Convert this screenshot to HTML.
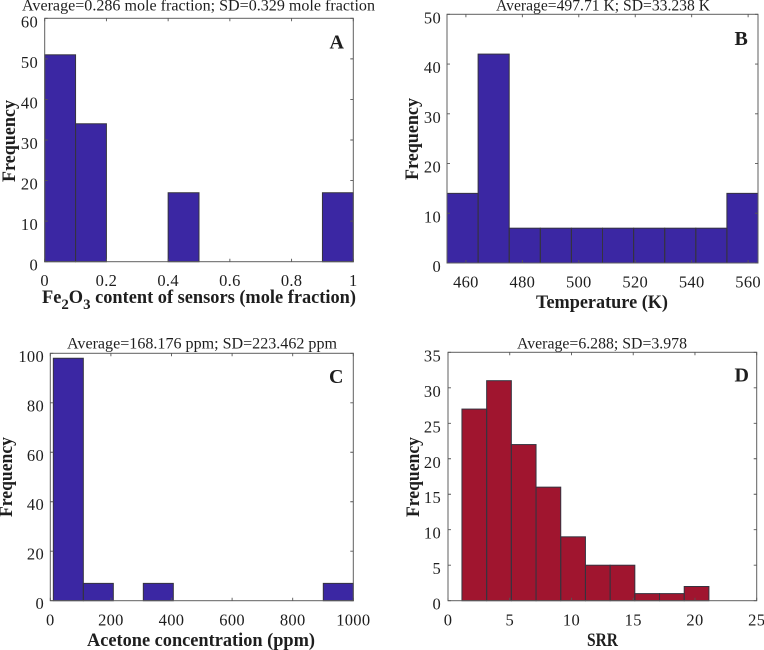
<!DOCTYPE html>
<html lang="en">
<head>
<meta charset="utf-8">
<title>Histograms of sensor data</title>
<style>
html,body{margin:0;padding:0;background:#fff;width:764px;height:650px;overflow:hidden}
svg{display:block;filter:blur(0.35px)}
text{font-family:"Liberation Serif",serif;fill:#1e1e1e}
</style>
</head>
<body>
<svg id="chart" width="764" height="650" viewBox="0 0 764 650" xmlns="http://www.w3.org/2000/svg"></svg>
<script>
const aValues = [51, 34, 0, 0, 17, 0, 0, 0, 0, 17];
const aXTicks = [0, 0.2, 0.4, 0.6, 0.8, 1];
const aYTicks = [0, 10, 20, 30, 40, 50, 60];
const bValues = [14, 42, 7, 7, 7, 7, 7, 7, 7, 14];
const bXTicks = [460, 480, 500, 520, 540, 560];
const bYTicks = [0, 10, 20, 30, 40, 50];
const cValues = [98, 7, 0, 7, 0, 0, 0, 0, 0, 7];
const cXTicks = [0, 200, 400, 600, 800, 1000];
const cYTicks = [0, 20, 40, 60, 80, 100];
const dValues = [27, 31, 22, 16, 9, 5, 5, 1, 1, 2];
const dXTicks = [0, 5, 10, 15, 20, 25];
const dYTicks = [0, 5, 10, 15, 20, 25, 30, 35];

const NS = 'http://www.w3.org/2000/svg';
const root = document.getElementById('chart');

function make(tag, attrs, parent, text) {
  const el = document.createElementNS(NS, tag);
  for (const k in attrs) el.setAttribute(k, attrs[k]);
  if (text !== undefined) el.textContent = text;
  parent.appendChild(el);
  return el;
}

function drawPanel(p) {
  const g = make('g', {}, root);
  
  
  const sx = v => p.left + (v - p.xMin) / (p.xMax - p.xMin) * (p.right - p.left);
  const sy = v => p.bottom - v / p.yMax * (p.bottom - p.top);

  p.values.forEach((v, i) => {
    if (v <= 0) return;
    const x0 = sx(p.binStart + i * p.binWidth);
    const x1 = sx(p.binStart + (i + 1) * p.binWidth);
    const bar = make('rect', {x: x0, y: sy(v), width: x1 - x0, height: p.bottom - sy(v), fill: p.color}, g);
    
    
  });
  p.values.forEach((v, i) => {
    if (v <= 0) return;
    const x0 = sx(p.binStart + i * p.binWidth);
    const x1 = sx(p.binStart + (i + 1) * p.binWidth);
    const edge = make('rect', {x: x0, y: sy(v), width: x1 - x0, height: p.bottom - sy(v), fill: 'none', stroke: '#35333f', 'stroke-width': 1}, g);
    
    
  });

  const frame = make('rect', {x: p.left, y: p.top, width: p.right - p.left, height: p.bottom - p.top, fill: 'none', stroke: '#5f5f5f', 'stroke-width': 1}, g);
  
  

  p.xTicks.forEach(t => {
    const x = sx(t);
    make('path', {d: `M${x} ${p.bottom}v-3M${x} ${p.top}v3`, stroke: '#555', 'stroke-width': 0.9, fill: 'none'}, g);
    const lab = make('text', {x: x, y: p.xTickY, 'text-anchor': 'middle', 'font-size': 16.5, 'letter-spacing': 0.3}, g, String(t));
    
    
  });
  p.yTicks.forEach(t => {
    const y = sy(t);
    make('path', {d: `M${p.left} ${y}h3M${p.right} ${y}h-3`, stroke: '#555', 'stroke-width': 0.9, fill: 'none'}, g);
    const lab = make('text', {x: p.yTickX, y: y + 5.5 + p.yTickShift, 'text-anchor': 'end', 'font-size': 16.5, 'letter-spacing': 0.3}, g, String(t));
    
    
  });

  const title = make('text', {x: p.title[1], y: p.title[3], textLength: p.title[2] - p.title[1], lengthAdjust: 'spacingAndGlyphs', 'font-size': 15.5}, g, p.title[0]);
  
  

  const ylabLen = p.ylab[2] - p.ylab[1];
  const ylab = make('text', {transform: `translate(${p.ylab[0]} ${p.ylab[2]}) rotate(-90)`, x: 0, y: 0, textLength: ylabLen, lengthAdjust: 'spacingAndGlyphs', 'font-size': 18.5, 'font-weight': 'bold'}, g, 'Frequency');
  
  

  const xlab = make('text', {x: p.xlab[1], y: p.xlab[3], textLength: p.xlab[2] - p.xlab[1], lengthAdjust: 'spacingAndGlyphs', 'font-size': 18.5, 'font-weight': 'bold'}, g);
  
  
  p.xlab[0].forEach(part => {
    const span = make('tspan', part[1] ? {dy: part[1]} : {}, xlab, part[0]);
    if (part[2]) span.setAttribute('font-size', part[2]);
  });

  const letter = make('text', {x: p.letterPos[0], y: p.letterPos[1], 'font-size': 20, 'font-weight': 'bold', fill: '#111'}, g, p.letter);
  
  
}

drawPanel({
  letter: 'A', color: '#3b27a3', values: aValues, xTicks: aXTicks, yTicks: aYTicks,
  left: 44.7, right: 353.3, top: 18.3, bottom: 261.7,
  xMin: 0, xMax: 1, yMax: 60, binStart: 0, binWidth: 0.1,
  xTickY: 286, yTickX: 38, yTickShift: 3.5,
  title: ['Average=0.286 mole fraction; SD=0.329 mole fraction', 22, 375, 10.5],
  ylab: [15, 100, 182],
  xlab: [[['Fe', 0], ['2', 6, 15], ['O', -6], ['3', 6, 15], [' content of sensors (mole fraction)', -6]], 42, 356, 303],
  letterPos: [329.5, 48.5]
});
drawPanel({
  letter: 'B', color: '#3b27a3', values: bValues, xTicks: bXTicks, yTicks: bYTicks,
  left: 447, right: 758, top: 14.3, bottom: 263,
  xMin: 453.3, xMax: 563.5, yMax: 50, binStart: 453.3, binWidth: 11.02,
  xTickY: 287.5, yTickX: 441, yTickShift: 3.5,
  title: ['Average=497.71 K; SD=33.238 K', 496, 710, 10.5],
  ylab: [418, 98, 180],
  xlab: [[['Temperature (K)', 0]], 536, 668, 308],
  letterPos: [734.5, 45]
});
drawPanel({
  letter: 'C', color: '#3b27a3', values: cValues, xTicks: cXTicks, yTicks: cYTicks,
  left: 50.3, right: 353.3, top: 353.3, bottom: 600.7,
  xMin: 0, xMax: 1000, yMax: 100, binStart: 10, binWidth: 99,
  xTickY: 625.5, yTickX: 44, yTickShift: 3,
  title: ['Average=168.176 ppm; SD=223.462 ppm', 67, 337, 348.5],
  ylab: [12, 437, 517],
  xlab: [[['Acetone concentration (ppm)', 0]], 87, 315, 646],
  letterPos: [329, 383]
});
drawPanel({
  letter: 'D', color: '#a0152f', values: dValues, xTicks: dXTicks, yTicks: dYTicks,
  left: 448, right: 756.7, top: 352.3, bottom: 600.7,
  xMin: 0, xMax: 25, yMax: 35, binStart: 1.13, binWidth: 2,
  xTickY: 625.5, yTickX: 441, yTickShift: 3.5,
  title: ['Average=6.288; SD=3.978', 517, 687, 348.5],
  ylab: [419, 437, 517],
  xlab: [[['SRR', 0]], 587, 618, 646],
  letterPos: [734.5, 381.5]
});
</script>
</body>
</html>
